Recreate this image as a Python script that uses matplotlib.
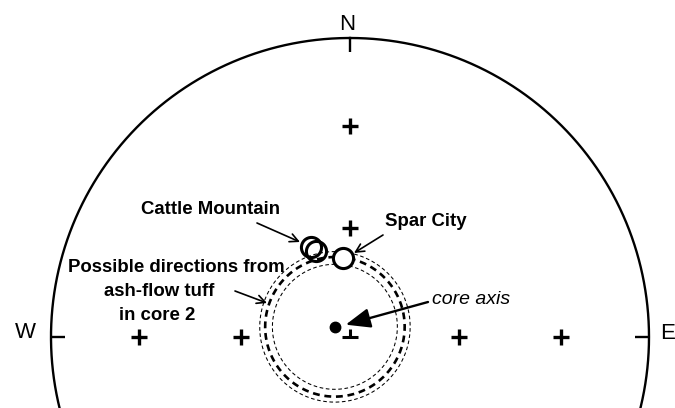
import numpy as np
import matplotlib
matplotlib.use("Agg")
import matplotlib.pyplot as plt

plt.rcParams['font.family'] = ['Liberation Sans', 'DejaVu Sans']

# Paleomagnetic directions (trend, plunge in degrees, lower hemisphere)
cattle_trend = [336.6, 338.4]
cattle_plunge = [63.2, 64.7]
spar_trend = [354.9]
spar_plunge = [68.4]
core_axis_trend = 304.0
core_axis_plunge = 85.0
# Cone half-angles about the core axis (degrees): inner, middle, outer
cone_angles = [17.0, 19.0, 20.5]
cone_styles = ['thin', 'thick', 'thin']
# Reference crosses on the net
cross_trend = [0, 0, 90, 90, 270, 270]
cross_plunge = [60, 30, 60, 30, 60, 30]
cardinal_labels = ['N', 'E', 'W']
cardinal_trend = [0, 90, 270]


def project(trend, plunge):
    """Equal-area (Schmidt) projection of lower-hemisphere lines."""
    t = np.radians(np.asarray(trend, float))
    p = np.radians(np.asarray(plunge, float))
    r = np.sqrt(2.0) * np.sin((np.pi / 2 - p) / 2.0)
    return r * np.sin(t), r * np.cos(t)


def small_circle(trend, plunge, half_angle, n=400):
    t, p = np.radians(trend), np.radians(plunge)
    v = np.array([np.cos(p) * np.sin(t), np.cos(p) * np.cos(t), np.sin(p)])
    a = np.array([0.0, 0.0, 1.0]) if abs(v[2]) < 0.9 else np.array([1.0, 0.0, 0.0])
    u = np.cross(v, a); u /= np.linalg.norm(u)
    w = np.cross(v, u)
    phi = np.linspace(0, 2 * np.pi, n)
    al = np.radians(half_angle)
    pts = (np.cos(al) * v[:, None]
           + np.sin(al) * (np.cos(phi) * u[:, None] + np.sin(phi) * w[:, None]))
    pts[:, pts[2] < 0] *= -1
    e, nn, d = pts
    tr = np.degrees(np.arctan2(e, nn))
    pl = np.degrees(np.arcsin(np.clip(d, -1, 1)))
    return project(tr, pl)


# Figure: canvas placement of the net (centre and radius in pixels)
W_PX, H_PX = 675, 408
CX, CY, R = 350.0, 337.0, 299.0


def px(x, y):
    return (x - CX) / R, (CY - y) / R


fig = plt.figure(figsize=(W_PX / 100, H_PX / 100), dpi=100)
ax = fig.add_axes([0, 0, 1, 1])
ax.set_xlim(px(0, 0)[0], px(W_PX, 0)[0])
ax.set_ylim(px(0, H_PX)[1], px(0, 0)[1])
ax.set_aspect('equal')
ax.axis('off')

# Primitive circle
th = np.linspace(0, 2 * np.pi, 721)
ax.plot(np.sin(th), np.cos(th), color='black', lw=1.7, zorder=2)

# Cardinal ticks and labels
tick_len = 14 / R
for lab, tr in zip(cardinal_labels, cardinal_trend):
    s, c = np.sin(np.radians(tr)), np.cos(np.radians(tr))
    ax.plot([s, s * (1 - tick_len)], [c, c * (1 - tick_len)], color='black',
            lw=1.7, solid_capstyle='butt', zorder=2)
label_pos = {'N': px(347, 30), 'E': px(668, 339), 'W': px(25, 338)}
for lab in cardinal_labels:
    ax.text(*label_pos[lab], lab, fontsize=16, ha='center', va='baseline')

# Reference crosses and net centre
cx_, cy_ = project(cross_trend, cross_plunge)
ax.plot(cx_, cy_, '+', color='black', ms=11, mew=2.4, zorder=3)
c0x, c0y = project([0], [90])
ax.plot(c0x, c0y, marker='_', color='black', ms=12, mew=2.2, zorder=3)
ax.plot(c0x, c0y, marker=2, color='black', ms=6, mew=2.2, zorder=3)

# Cones of possible directions around the core axis
for ang, sty in zip(cone_angles, cone_styles):
    x, y = small_circle(core_axis_trend, core_axis_plunge, ang)
    if sty == 'thick':
        ax.plot(x, y, color='black', lw=1.9, dashes=(2.6, 1.8), zorder=2)
    else:
        ax.plot(x, y, color='black', lw=0.75, dashes=(3.5, 2.5), zorder=2)

# Core axis
kx, ky = project([core_axis_trend], [core_axis_plunge])
ax.plot(kx, ky, 'o', color='black', ms=7.5, zorder=4)

# Site directions
sx, sy = project(cattle_trend, cattle_plunge)
ax.plot(sx, sy, 'o', mfc='none', mec='black', ms=14.5, mew=2.2, zorder=4)
spx, spy = project(spar_trend, spar_plunge)
ax.plot(spx, spy, 'o', mfc='white', mec='black', ms=14.5, mew=2.2, zorder=4)

# Labels and leader arrows
bold = dict(fontsize=13.4, fontweight='bold', ha='center', va='center')
ax.text(*px(210, 210), 'Cattle Mountain', **bold)
ax.text(*px(426, 222), 'Spar City', **bold)
ax.text(*px(176, 268), 'Possible directions from', **bold)
ax.text(*px(159, 292), 'ash-flow tuff', **bold)
ax.text(*px(157, 316), 'in core 2', **bold)
ax.text(*px(432, 300), 'core axis', fontsize=14, style='italic',
        ha='left', va='center')

thin_arrow = dict(arrowstyle='->', color='black', lw=1.2,
                  mutation_scale=15, shrinkA=0, shrinkB=0)
ax.annotate('', xy=px(300, 242), xytext=px(257, 223), arrowprops=thin_arrow)
ax.annotate('', xy=px(354, 253), xytext=px(383, 235), arrowprops=thin_arrow)
ax.annotate('', xy=px(267, 303), xytext=px(235, 291), arrowprops=thin_arrow)
ax.annotate('', xy=(kx[0] + 11 / R, ky[0] + 2 / R), xytext=px(428, 302),
            arrowprops=dict(arrowstyle='-|>,head_length=1.0,head_width=0.4',
                            color='black', lw=1.7, mutation_scale=15,
                            shrinkA=0, shrinkB=0))

fig.savefig('out.png', dpi=100)
